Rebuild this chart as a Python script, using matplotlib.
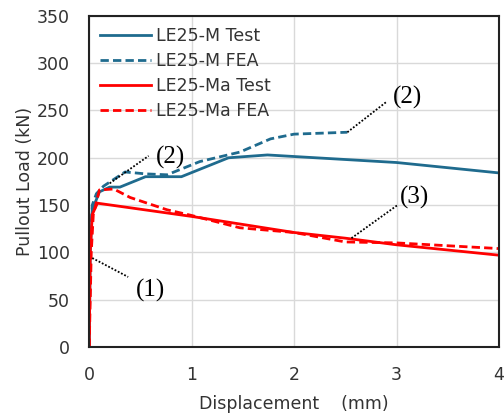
import matplotlib
matplotlib.use("Agg")
import matplotlib.pyplot as plt

# ============== data ==============
m_test_x = [0, 0.01, 0.03, 0.1, 0.2, 0.3, 0.55, 0.9, 1.36, 1.74, 3.0, 4.0]
m_test_y = [0, 100, 145, 164, 169, 169, 180, 180, 200, 203, 195, 184]

m_fea_x = [0, 0.01, 0.03, 0.07, 0.14, 0.35, 0.55, 0.76, 1.08, 1.47, 1.77, 2.0, 2.52]
m_fea_y = [0, 110, 150, 162, 170, 185, 183, 182, 196, 206, 220, 225, 227]

ma_test_x = [0, 0.01, 0.03, 0.08, 1.0, 2.0, 2.5, 3.0, 4.0]
ma_test_y = [0, 100, 140, 152, 138, 121, 115, 108, 97]

ma_fea_x = [0, 0.02, 0.04, 0.1, 0.24, 0.4, 0.76, 1.0, 1.47, 2.0, 2.5, 3.0, 4.0]
ma_fea_y = [0, 100, 140, 166, 167, 158, 145, 139, 126, 121, 111, 110, 104]

series_labels = ["LE25-M Test", "LE25-M FEA", "LE25-Ma Test", "LE25-Ma FEA"]

# annotations: (text, line start, line end, text position)
notes = [
    ("(1)", (0.03, 94), (0.38, 74), (0.6, 60)),
    ("(2)", (0.2, 173), (0.58, 202), (0.79, 200)),
    ("(2)", (2.52, 227), (2.9, 259), (3.11, 264)),
    ("(3)", (2.56, 115), (3.01, 150), (3.18, 158)),
]

blue = "#1f6b8e"
red = "#ff0000"
txtcol = "#333333"

# ============== plotting ==============
fig = plt.figure(figsize=(5.04, 4.19), dpi=100)
ax = fig.add_axes([0.177, 0.172, 0.813, 0.79])

ax.plot(m_test_x, m_test_y, color=blue, lw=2, label=series_labels[0])
ax.plot(m_fea_x, m_fea_y, color=blue, lw=2, ls=(0, (3, 1.5)), label=series_labels[1])
ax.plot(ma_test_x, ma_test_y, color=red, lw=2, label=series_labels[2])
ax.plot(ma_fea_x, ma_fea_y, color=red, lw=2, ls=(0, (3, 1.5)), label=series_labels[3])

for txt, p0, p1, pt in notes:
    ax.plot([p0[0], p1[0]], [p0[1], p1[1]], color="black", lw=1.3, ls=(0, (1, 1)))
    ax.text(pt[0], pt[1], txt, family="Liberation Serif", fontsize=18,
            ha="center", va="center")

ax.set_xlim(0, 4)
ax.set_ylim(0, 350)
ax.set_xticks([0, 1, 2, 3, 4])
ax.set_yticks(range(0, 351, 50))
ax.grid(True, color="#d9d9d9", lw=1)
ax.set_axisbelow(True)
ax.tick_params(axis="y", length=0, labelsize=12.5, pad=14, colors=txtcol)
ax.tick_params(axis="x", length=0, labelsize=12.5, pad=14, colors=txtcol)
for s in ax.spines.values():
    s.set_linewidth(1.5)
    s.set_color("#222222")

ax.set_xlabel("Displacement    (mm)", fontsize=12.5, labelpad=8, color=txtcol)
ax.set_ylabel("Pullout Load (kN)", fontsize=12.5, labelpad=2, color=txtcol)

leg = ax.legend(loc="upper left", frameon=False, fontsize=12.5, handlelength=2.9,
                handletextpad=0.3, labelspacing=0.4, borderaxespad=0.25)
for t in leg.get_texts():
    t.set_color(txtcol)

fig.savefig("out.png", dpi=100)
